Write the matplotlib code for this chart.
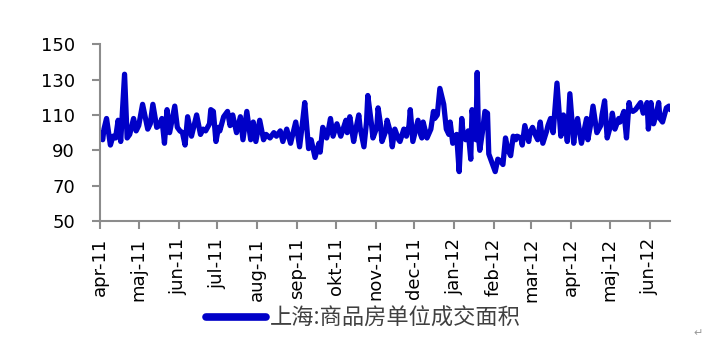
import matplotlib
matplotlib.use("Agg")
import matplotlib.pyplot as plt
import matplotlib.dates as mdates
import pandas as pd

plt.rcParams['font.family'] = ['DejaVu Sans']

# days since 2011-04-01 and the daily transaction area index
day_offsets = [
    0, 2, 3, 5, 8, 10, 12, 14, 16, 19,
    21, 23, 26, 28, 30, 33, 37, 39, 41, 44,
    46, 48, 50, 52, 54, 58, 60, 62, 64, 66,
    68, 71, 73, 75, 78, 80, 82, 85, 86, 88,
    90, 92, 93, 96, 99, 101, 103, 106, 109, 111,
    114, 117, 119, 121, 124, 127, 129, 132, 135, 137,
    140, 142, 145, 148, 150, 152, 155, 157, 159, 162,
    164, 167, 170, 171, 173, 176, 177, 179, 181, 184,
    187, 191, 192, 194, 197, 199, 201, 202, 205, 207,
    208, 211, 212, 215, 216, 218, 219, 222, 223, 226,
    227, 229, 232, 233, 236, 238, 240, 241, 243, 245,
    247, 249, 250, 251, 254, 257, 259, 260, 262, 264,
    267, 269, 271, 272, 274, 277, 279, 281, 282, 284,
    286, 288, 289, 292, 293, 294, 295, 297, 299, 301,
    302, 303, 305, 307, 309, 311, 313, 315, 317, 319,
    321, 323, 324, 327, 328, 330, 333, 334, 336, 338,
    340, 342, 344, 347, 348, 350, 352, 355, 358, 360,
    362, 363, 365, 368, 369, 371, 372, 374, 376, 378,
    379, 381, 383, 385, 386, 389, 390, 392, 394, 397,
    398, 400, 403, 404, 407, 409, 411, 412, 414, 416,
    418, 420, 422, 424, 425, 426, 428, 430, 432, 434,
    435, 437, 440, 442, 443,
]
area_index = [
    100, 96, 102, 108, 93, 98, 97, 107, 95, 133,
    97, 99, 108, 101, 104, 116, 102, 105, 116, 103,
    104, 108, 94, 113, 100, 115, 103, 101, 100, 93,
    109, 98, 104, 110, 99, 102, 101, 105, 113, 112,
    95, 103, 101, 109, 112, 104, 110, 100, 109, 96,
    112, 96, 106, 95, 107, 96, 99, 97, 100, 98,
    101, 95, 102, 94, 100, 106, 92, 104, 117, 91,
    96, 86, 94, 89, 103, 97, 100, 108, 98, 105,
    98, 107, 100, 109, 95, 103, 110, 103, 92, 106,
    121, 104, 97, 103, 114, 104, 95, 101, 107, 99,
    92, 102, 96, 95, 102, 98, 104, 113, 95, 101,
    107, 99, 97, 106, 97, 102, 112, 108, 110, 125,
    116, 102, 99, 106, 94, 99, 78, 108, 100, 96,
    101, 85, 113, 96, 134, 98, 90, 100, 112, 111,
    88, 86, 82, 78, 85, 84, 82, 97, 90, 87,
    98, 96, 98, 97, 93, 104, 95, 100, 103, 99,
    96, 106, 94, 101, 104, 108, 100, 128, 98, 110,
    103, 95, 122, 94, 101, 108, 103, 94, 101, 108,
    96, 104, 115, 105, 100, 104, 110, 118, 97, 105,
    111, 102, 108, 106, 112, 97, 117, 113, 112, 113,
    115, 117, 111, 113, 117, 102, 117, 105, 110, 117,
    108, 106, 114, 115, 113,
]
month_labels = ['apr-11', 'maj-11', 'jun-11', 'jul-11', 'aug-11', 'sep-11',
                'okt-11', 'nov-11', 'dec-11', 'jan-12', 'feb-12', 'mar-12',
                'apr-12', 'maj-12', 'jun-12']
series_name = '上海:商品房单位成交面积'

start = pd.Timestamp('2011-04-01')
dates = start + pd.to_timedelta(day_offsets, unit='D')

fig = plt.figure(figsize=(7.1, 3.45), dpi=100)
ax = fig.add_axes([0.141, 0.359, 0.803, 0.513])

line, = ax.plot(dates, area_index, color='#0000c8', linewidth=3.8,
                solid_capstyle='round', solid_joinstyle='round')

ax.set_ylim(50, 150)
ax.set_yticks(range(50, 151, 20))
ax.set_xlim(start, start + pd.Timedelta(days=443))
ax.xaxis.set_major_locator(mdates.MonthLocator())
ax.set_xticklabels(month_labels, rotation=90)

for side in ('top', 'right'):
    ax.spines[side].set_visible(False)
for side in ('left', 'bottom'):
    ax.spines[side].set_color('#8c8c8c')
    ax.spines[side].set_linewidth(1.5)
ax.tick_params(axis='both', colors='#8c8c8c', width=1.5, length=6,
               labelcolor='black', labelsize=13)
ax.tick_params(axis='y', pad=12)
ax.tick_params(axis='x', pad=6)

leg = fig.legend([line], [series_name], loc='center',
                 bbox_to_anchor=(0.512, 0.078), frameon=False,
                 handlelength=2.7, handletextpad=0.15,
                 prop={'family': ['Noto Sans CJK SC', 'DejaVu Sans'], 'size': 16})
leg.get_lines()[0].set_linewidth(5.5)
for t in leg.get_texts():
    t.set_color('#404040')

fig.text(0.99, 0.035, '↵', color='#999999', fontsize=8, ha='right', va='center')

fig.savefig('out.png', dpi=100)
